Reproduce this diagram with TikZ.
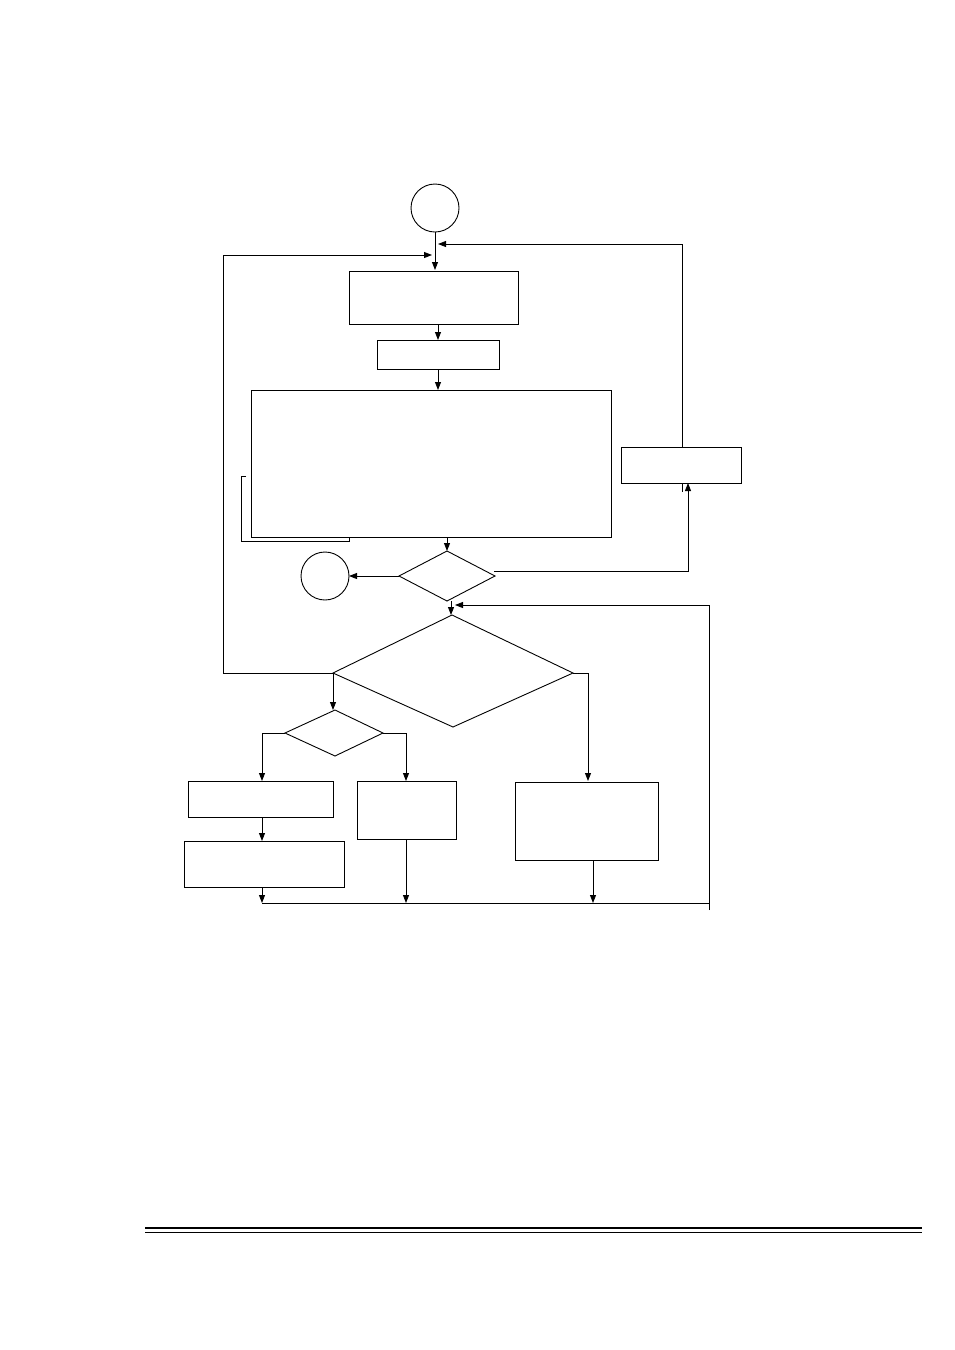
\documentclass[tikz,border=0pt]{standalone}
\usetikzlibrary{arrows.meta}
\begin{document}
\begin{tikzpicture}[x=1pt,y=-1pt,line width=0.9pt,
  ar/.style={-{Triangle[length=8pt,width=6pt]}},
  bx/.style={draw}]
\useasboundingbox (0,0) rectangle (954,1350);
% circles
\draw (435,208) circle[radius=24];
\coordinate (c1b) at (435,232);
\draw (325,576) circle[radius=24];
% boxes
\draw (349,271) rectangle (518,324);
\draw (377,340) rectangle (499,369);
\draw (251,390) rectangle (611,537);
\draw (621,447) rectangle (741,483);
\draw (188,781) rectangle (333,817);
\draw (184,841) rectangle (344,887);
\draw (357,781) rectangle (456,839);
\draw (515,782) rectangle (658,860);
% diamonds
\draw (447,551) -- (495,576) -- (447,601) -- (399,576) -- cycle;
\draw (452,615) -- (573,673) -- (453,727) -- (333,673) -- cycle;
\draw (335,710) -- (383,733) -- (335,756) -- (285,733) -- cycle;
% bracket
\draw (246,476) -- (241,476) -- (241,541) -- (349,541) -- (349,537);
% connectors
\draw[ar] (c1b) -- (435,270);
\draw[ar] (438,324) -- (438,340);
\draw[ar] (438,369) -- (438,390);
\draw[ar] (682,447) -- (682,244) -- (438,244);
\draw[ar] (333,673) -- (223,673) -- (223,255) -- (432,255);
\draw[ar] (447,537) -- (447,551);
\draw[ar] (399,576) -- (349,576);
\draw[ar] (494,571) -- (688,571) -- (688,483);
\draw (682,483) -- (682,492);
\draw[ar] (451,601) -- (451,615);
\draw[ar] (709,910) -- (709,605) -- (455,605);
\draw[ar] (333,673) -- (333,710);
\draw[ar] (285,733) -- (262,733) -- (262,781);
\draw[ar] (262,817) -- (262,841);
\draw[ar] (262,887) -- (262,903);
\draw[ar] (383,733) -- (406,733) -- (406,781);
\draw[ar] (406,839) -- (406,903);
\draw[ar] (573,673) -- (588,673) -- (588,781);
\draw[ar] (593,860) -- (593,903);
\draw (262,903) -- (709,903);
% footer
\draw[line width=2pt] (145,1228) -- (922,1228);
\draw[line width=0.8pt] (145,1232.5) -- (922,1232.5);
\end{tikzpicture}
\end{document}
